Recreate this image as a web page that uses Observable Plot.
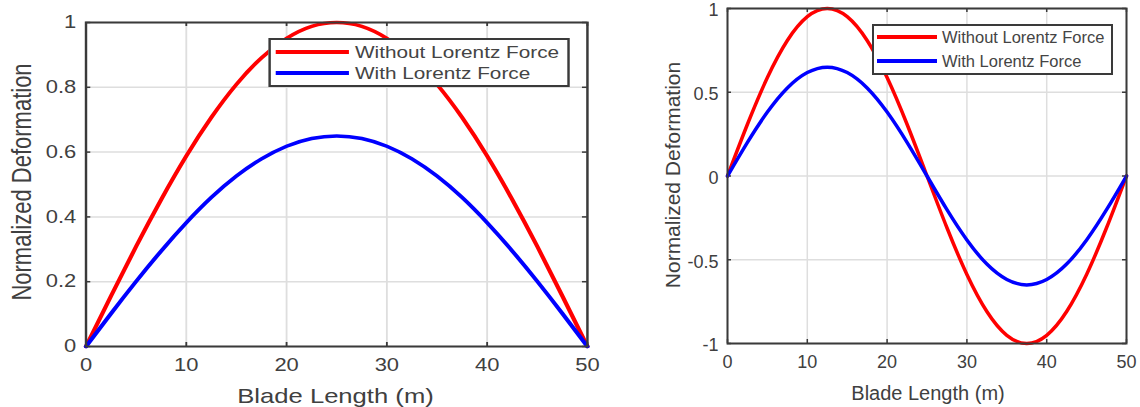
<!DOCTYPE html>
<html><head><meta charset="utf-8">
<script src="https://cdn.jsdelivr.net/npm/d3@7"></script>
<script src="https://cdn.jsdelivr.net/npm/@observablehq/plot@0.6"></script>
<style>
body{margin:0;background:#fff;}
#root{position:relative;width:1140px;height:407px;overflow:hidden;font-family:"Liberation Sans",Arial,sans-serif;color:#404040;}
.panel{position:absolute;top:0;height:407px;}
.panel svg{position:absolute;left:0;top:0;overflow:visible;}
.legend{position:absolute;background:#fff;border:2px solid #3a3a3a;box-sizing:border-box;}
.sw{position:absolute;height:3.5px;}
.lt{position:absolute;white-space:nowrap;line-height:1;transform:translateY(-50%);color:#444;}
.ttl{position:absolute;white-space:nowrap;line-height:1;color:#404040;}
</style></head>
<body><div id="root"></div>
<script>
// ---- data ----
const bladeX = [0,2.5,5,7.5,10,12.5,15,17.5,20,22.5,25,27.5,30,32.5,35,37.5,40,42.5,45,47.5,50];
const leftWithout = [0,0.156,0.309,0.454,0.588,0.707,0.809,0.891,0.951,0.988,1.000,0.988,0.951,0.891,0.809,0.707,0.588,0.454,0.309,0.156,0];
const leftWith    = [0,0.102,0.201,0.295,0.382,0.460,0.526,0.579,0.618,0.642,0.650,0.642,0.618,0.579,0.526,0.460,0.382,0.295,0.201,0.102,0];
const rightWithout = [0,0.309,0.588,0.809,0.951,1.000,0.951,0.809,0.588,0.309,0,-0.309,-0.588,-0.809,-0.951,-1.000,-0.951,-0.809,-0.588,-0.309,0];
const rightWith    = [0,0.201,0.382,0.526,0.618,0.650,0.618,0.526,0.382,0.201,0,-0.201,-0.382,-0.526,-0.618,-0.650,-0.618,-0.526,-0.382,-0.201,0];
const seriesNames = ["Without Lorentz Force","With Lorentz Force"];
const seriesColors = ["#ff0000","#0000ff"];
const xTicks = [0,10,20,30,40,50];
const xTickLabels = ["0","10","20","30","40","50"];
const leftYTicks = [0,0.2,0.4,0.6,0.8,1];
const leftYTickLabels = ["0","0.2","0.4","0.6","0.8","1"];
const rightYTicks = [-1,-0.5,0,0.5,1];
const rightYTickLabels = ["-1","-0.5","0","0.5","1"];
const xTitle = "Blade Length (m)";
const yTitle = "Normalized Deformation";

const root = document.getElementById("root");
const FONT = '"Liberation Sans", Arial, sans-serif';
const TXT = "#404040", FRAME = "#3a3a3a", GRID = "#dedede";

function toRows(ys){ return bladeX.map((x,i)=>({x, y: ys[i]})); }

function makePlot(cfg){
  const plotH = cfg.height - cfg.mt - cfg.mb;
  const plotW = cfg.width - cfg.ml - cfg.mr;
  return Plot.plot({
    width: cfg.width, height: cfg.height,
    marginLeft: cfg.ml, marginRight: cfg.mr, marginTop: cfg.mt, marginBottom: cfg.mb,
    style: {fontFamily: FONT, fontSize: cfg.fs + "px", color: TXT, background: "transparent", overflow: "visible"},
    x: {domain: [0,50]},
    y: {domain: cfg.yDomain},
    marks: [
      Plot.gridX(xTicks, {stroke: GRID, strokeOpacity: 1, strokeWidth: 1.5}),
      Plot.gridY(cfg.yTicks, {stroke: GRID, strokeOpacity: 1, strokeWidth: 1.5}),
      Plot.axisX(xTicks, {tickSize: 0, tickPadding: cfg.xpad, fontSize: cfg.fs, tickFormat: (d,i)=>xTickLabels[i], label: null}),
      Plot.axisY(cfg.yTicks, {tickSize: 0, tickPadding: cfg.ypad, fontSize: cfg.fs, dy: cfg.ydy, tickFormat: (d,i)=>cfg.yLabels[i], label: null}),
      Plot.ruleX(xTicks, {stroke: FRAME, strokeWidth: 1.5, insetTop: plotH - 4}),
      Plot.ruleX(xTicks, {stroke: FRAME, strokeWidth: 1.5, insetBottom: plotH - 4}),
      Plot.ruleY(cfg.yTicks, {stroke: FRAME, strokeWidth: 1.5, insetRight: plotW - 4}),
      Plot.ruleY(cfg.yTicks, {stroke: FRAME, strokeWidth: 1.5, insetLeft: plotW - 4}),
      Plot.line(toRows(cfg.s1), {x: "x", y: "y", stroke: seriesColors[0], strokeWidth: 3.5, curve: "natural"}),
      Plot.line(toRows(cfg.s2), {x: "x", y: "y", stroke: seriesColors[1], strokeWidth: 3.5, curve: "natural"}),
      Plot.frame({stroke: FRAME, strokeWidth: 2})
    ]
  });
}

function addLegend(panel, L){
  const box = document.createElement("div");
  box.className = "legend";
  Object.assign(box.style, {left: L.left+"px", top: L.top+"px", width: L.w+"px", height: L.h+"px"});
  seriesNames.forEach((name,i)=>{
    const sw = document.createElement("div");
    sw.className = "sw";
    Object.assign(sw.style, {left: L.swL+"px", width: L.swW+"px", top: (L.rows[i]-1.75)+"px", background: seriesColors[i]});
    box.appendChild(sw);
    const t = document.createElement("div");
    t.className = "lt";
    t.textContent = name;
    Object.assign(t.style, {left: L.txL+"px", top: L.rows[i]+"px", fontSize: L.fs+"px"});
    box.appendChild(t);
  });
  panel.appendChild(box);
}

function addTitles(panel, T){
  const xt = document.createElement("div");
  xt.className = "ttl"; xt.textContent = xTitle;
  Object.assign(xt.style, {left: T.xcx+"px", top: T.xcy+"px", fontSize: T.xfs+"px", transform: "translate(-50%,-50%)"});
  panel.appendChild(xt);
  const yt = document.createElement("div");
  yt.className = "ttl"; yt.textContent = yTitle;
  Object.assign(yt.style, {left: T.ycx+"px", top: T.ycy+"px", fontSize: T.yfs+"px", transform: "translate(-50%,-50%) rotate(-90deg)"});
  panel.appendChild(yt);
}

// Left panel (drawn horizontally stretched like the reference)
const SX = 1.22;
const left = document.createElement("div");
left.className = "panel";
Object.assign(left.style, {left: "0px", width: "492px", transform: `scaleX(${SX})`, transformOrigin: "0 0"});
root.appendChild(left);
left.appendChild(makePlot({width: 492, height: 407, ml: 70, mr: 11, mt: 22, mb: 61, fs: 18, xpad: 12, ypad: 8, ydy: 0,
  yDomain: [0,1], yTicks: leftYTicks, yLabels: leftYTickLabels, s1: leftWithout, s2: leftWith}));
addLegend(left, {left: 220, top: 38, w: 247, h: 49, swL: 4, swW: 60, txL: 69, rows: [12, 33], fs: 17});
addTitles(left, {xcx: 275, xcy: 395, xfs: 21, ycx: 18, ycy: 182, yfs: 22});

// Right panel
const right = document.createElement("div");
right.className = "panel";
Object.assign(right.style, {left: "600px", width: "540px"});
root.appendChild(right);
right.appendChild(makePlot({width: 540, height: 407, ml: 127, mr: 14, mt: 8, mb: 64, fs: 18, xpad: 12, ypad: 9, ydy: 2,
  yDomain: [-1,1], yTicks: rightYTicks, yLabels: rightYTickLabels, s1: rightWithout, s2: rightWith}));
addLegend(right, {left: 272, top: 24, w: 241, h: 51, swL: 3, swW: 60, txL: 68, rows: [11, 35], fs: 16.5});
addTitles(right, {xcx: 328, xcy: 393, xfs: 20, ycx: 72, ycy: 175, yfs: 21});
</script>
</body></html>
